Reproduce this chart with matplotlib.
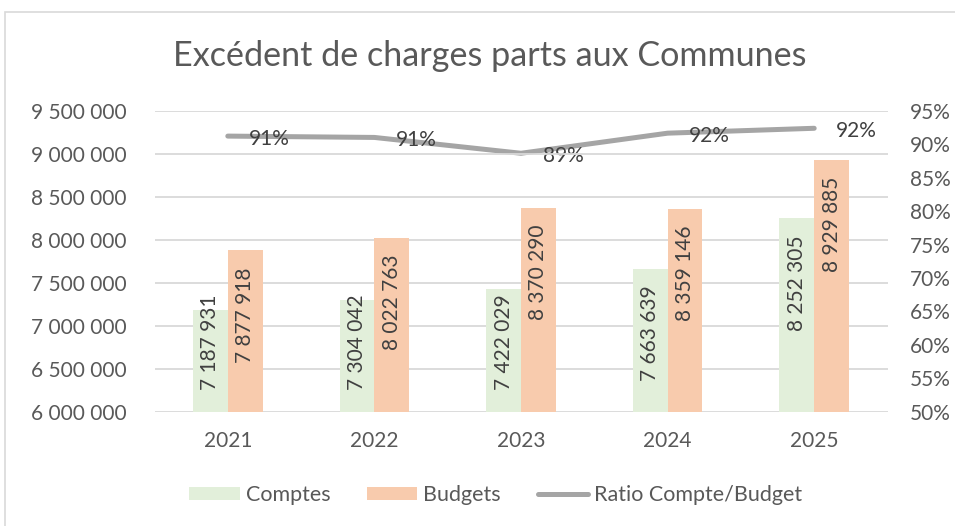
import matplotlib
matplotlib.use("Agg")
import matplotlib.pyplot as plt
from matplotlib.patches import Rectangle, Patch
from matplotlib.lines import Line2D
from matplotlib.ticker import FuncFormatter, MultipleLocator

years = ["2021", "2022", "2023", "2024", "2025"]
comptes = [7187931, 7304042, 7422029, 7663639, 8252305]
budgets = [7877918, 8022763, 8370290, 8359146, 8929885]
ratio = [c / b for c, b in zip(comptes, budgets)]

title = "Excédent de charges parts aux Communes"
FONT = ["Lato", "DejaVu Sans"]
TXT = "#595959"
LBL = "#404040"
GREEN = "#E2EFDA"
ORANGE = "#F8CBAD"
GREY = "#A5A5A5"
GRID = "#D9D9D9"
FS = 15

plt.rcParams["font.family"] = FONT

W, H = 955, 526
fig = plt.figure(figsize=(W / 100, H / 100), dpi=100)
fig.patch.set_facecolor("white")

# chart border
fig.add_artist(Rectangle((5 / W, -0.1), 1.2, (1 - 12 / H) + 0.1, transform=fig.transFigure,
                         fill=False, edgecolor=GRID, lw=1.2))

left, right, top, bottom = 154.5, 887.5, 111, 411.5
ax = fig.add_axes([left / W, 1 - bottom / H, (right - left) / W, (bottom - top) / H])
ax2 = ax.twinx()
ax.set_zorder(ax2.get_zorder() + 1)
ax.patch.set_visible(False)

ymin, ymax = 6_000_000, 9_500_000
ax.set_ylim(ymin, ymax)
ax.set_xlim(-0.5, len(years) - 0.5)
ax.yaxis.set_major_locator(MultipleLocator(500_000))
ax.yaxis.set_major_formatter(FuncFormatter(lambda v, p: f"{int(round(v)):,}".replace(",", " ")))
ax.grid(axis="y", color=GRID, lw=1.3)
ax.set_axisbelow(True)

ax2.set_ylim(0.50, 0.95)
ax2.yaxis.set_major_locator(MultipleLocator(0.05))
ax2.yaxis.set_major_formatter(FuncFormatter(lambda v, p: f"{round(v * 100)}%"))

for a in (ax, ax2):
    for s in a.spines.values():
        s.set_visible(False)
    a.tick_params(length=0, labelsize=FS, labelcolor=TXT)
ax.tick_params(axis="y", pad=20)
ax2.tick_params(axis="y", pad=16)
ax.tick_params(axis="x", pad=14)

x = list(range(len(years)))
bw = 0.238
b1 = ax.bar([i - bw / 2 for i in x], comptes, width=bw, color=GREEN, zorder=2)
b2 = ax.bar([i + bw / 2 for i in x], budgets, width=bw, color=ORANGE, zorder=2)
ax.set_xticks(x)
ax.set_xticklabels(years)

# data labels inside bars (rotated)
axh_px = bottom - top
for bars, vals in ((b1, comptes), (b2, budgets)):
    for rect, v in zip(bars, vals):
        xc = rect.get_x() + rect.get_width() / 2
        lbl = f"{v:,}".replace(",", " ")
        h_px = (v - ymin) / (ymax - ymin) * axh_px
        if h_px >= 135:
            ax.annotate(lbl, (xc, v), xytext=(0, -17), textcoords="offset pixels",
                        rotation=90, ha="center", va="top", fontsize=FS, color=LBL, zorder=5)
        else:
            ax.annotate(lbl, (xc, ymin), xytext=(0, 22), textcoords="offset pixels",
                        rotation=90, ha="center", va="bottom", fontsize=FS, color=LBL, zorder=5)

# ratio line on secondary scale, drawn above bars
ax_line = fig.add_axes(ax.get_position())
ax_line.set_xlim(ax.get_xlim())
ax_line.set_ylim(0.50, 0.95)
ax_line.axis("off")
ax_line.plot(x, ratio, color=GREY, lw=3.6, solid_capstyle="round", zorder=3)
for i, r in zip(x, ratio):
    ax_line.annotate(f"{round(r * 100)}%", (i, r), xytext=(42, -9), textcoords="offset pixels",
                     ha="center", va="baseline", fontsize=FS, color=LBL, zorder=6)

fig.text(0.513, 1 - 56 / H, title, ha="center", va="center", fontsize=24.6, color=TXT)

handles = [Patch(facecolor=GREEN, edgecolor="none"),
           Patch(facecolor=ORANGE, edgecolor="none"),
           Line2D([0], [0], color=GREY, lw=3.6, solid_capstyle="round")]
labels = ["Comptes", "Budgets", "Ratio Compte/Budget"]
fig.legend(handles, labels, loc="center", bbox_to_anchor=(0.519, 1 - 495 / H), ncol=3,
           frameon=False, fontsize=15.5, labelcolor=TXT, handlelength=2.35, handleheight=0.6,
           handletextpad=0.27, columnspacing=1.7)

fig.savefig("out.png", dpi=100)
